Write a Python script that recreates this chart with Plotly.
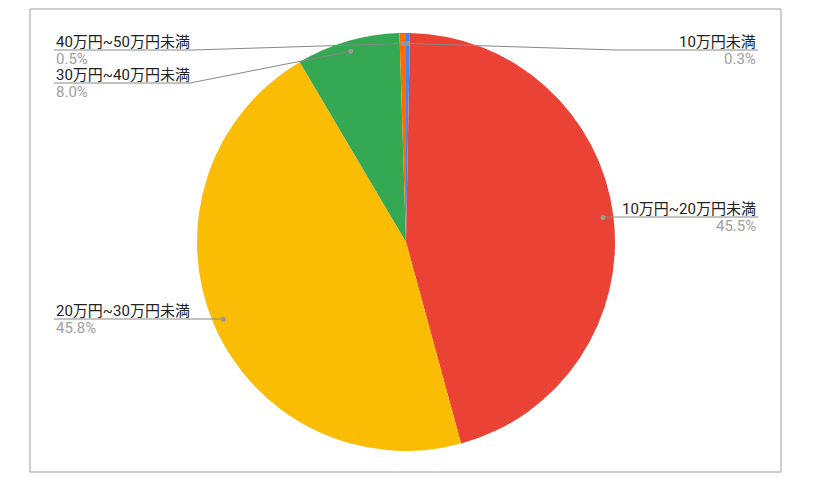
import math
import plotly.graph_objects as go

W, H = 813, 488
OFF = 8  # page body margin the div sits inside

# --- data ---
labels = ["10万円未満", "10万円~20万円未満", "20万円~30万円未満", "30万円~40万円未満", "40万円~50万円未満"]
values = [0.3, 45.5, 45.8, 8.0, 0.5]
colors = ["#4285F4", "#EA4335", "#FBBC04", "#34A853", "#FF6D01"]

# --- callout layout (pixels in the screenshot) ---
label_side = ["right", "right", "left", "left", "left"]
line_y = [50, 217, 319, 83, 50]          # underline row
elbow_x = [617, None, None, 190, 193]    # None -> straight line to the dot
LEFT_X, RIGHT_X = 54, 758
CX, CY, R = 406, 242, 209
DOT_R = 0.95

FONT = "Roboto, 'Noto Sans CJK JP', Arial, sans-serif"


def px(x, y):
    return (x - OFF) / W, 1 - (y - OFF) / H


fig = go.Figure()
dx0, dy0 = px(CX - R, CY + R)
dx1, dy1 = px(CX + R, CY - R)
fig.add_trace(go.Pie(
    labels=labels,
    values=values,
    marker=dict(colors=colors, line=dict(width=0)),
    sort=False,
    direction="clockwise",
    rotation=0,
    textinfo="none",
    showlegend=False,
    domain=dict(x=[dx0, dx1], y=[dy0, dy1]),
))

shapes = []
annotations = []
total = sum(values)
cum = 0
for i, (lab, v) in enumerate(zip(labels, values)):
    mid = (cum + v / 2) / total * 2 * math.pi
    cum += v
    dx = CX + DOT_R * R * math.sin(mid)
    dy = CY - DOT_R * R * math.cos(mid)
    ly = line_y[i]
    ex = elbow_x[i] if elbow_x[i] is not None else dx
    end_x = RIGHT_X if label_side[i] == "right" else LEFT_X

    pts = [px(dx, dy), px(ex, ly), px(end_x, ly)]
    path = "M {},{} L {},{} L {},{}".format(*[c for p in pts for c in p])
    shapes.append(dict(type="path", path=path, xref="paper", yref="paper",
                       line=dict(color="#888888", width=1)))
    x0, y0 = px(dx - 2.5, dy - 2.5)
    x1, y1 = px(dx + 2.5, dy + 2.5)
    shapes.append(dict(type="circle", xref="paper", yref="paper",
                       x0=x0, y0=y0, x1=x1, y1=y1,
                       fillcolor="#999999", line=dict(width=0)))

    anchor = "right" if label_side[i] == "right" else "left"
    tx, ty = px(end_x, ly - 8)
    annotations.append(dict(x=tx, y=ty, xref="paper", yref="paper", text=lab,
                            showarrow=False, xanchor=anchor, yanchor="middle",
                            font=dict(family=FONT, size=15, color="#222222")))
    tx, ty = px(end_x, ly + 9)
    annotations.append(dict(x=tx, y=ty, xref="paper", yref="paper", text=f"{v:.1f}%",
                            showarrow=False, xanchor=anchor, yanchor="middle",
                            font=dict(family=FONT, size=15, color="#a0a0a0")))

# chart border
bx0, by0 = px(30, 472)
bx1, by1 = px(781, 9)
shapes.append(dict(type="rect", xref="paper", yref="paper", x0=bx0, y0=by0, x1=bx1, y1=by1,
                   line=dict(color="#9e9e9e", width=1)))

fig.update_layout(
    width=W, height=H,
    margin=dict(l=0, r=0, t=0, b=0),
    paper_bgcolor="white",
    plot_bgcolor="white",
    shapes=shapes,
    annotations=annotations,
)

fig.write_html("out.html")
